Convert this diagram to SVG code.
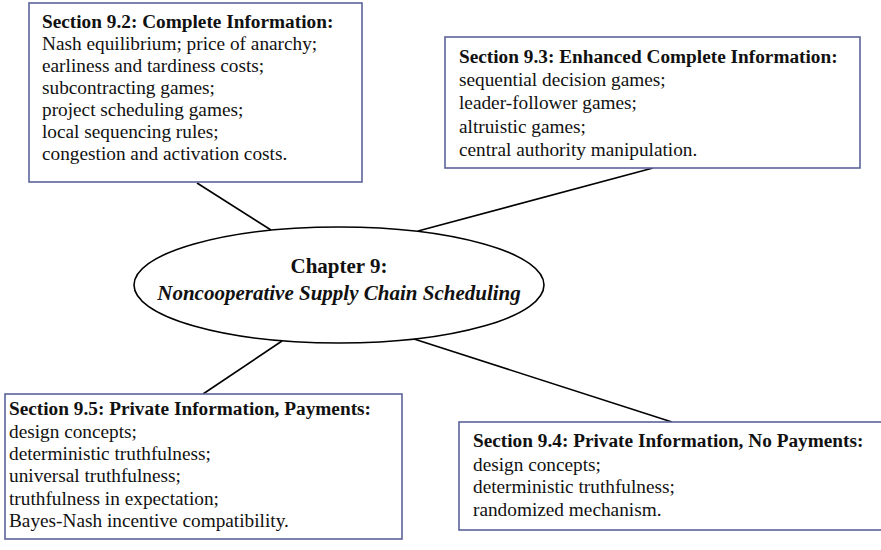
<svg xmlns="http://www.w3.org/2000/svg" width="881" height="550" viewBox="0 0 881 550">
  <style>
    .box { fill: #ffffff; stroke: #5b6399; stroke-width: 1.6; }
    .hub { fill: #ffffff; stroke: #000000; stroke-width: 1.6; }
    .link { stroke: #000000; stroke-width: 1.6; fill: none; }
    text { font-family: "Liberation Serif", "Times New Roman", serif; font-size: 19.3px; fill: #111111; }
    .title { font-weight: bold; }
    .hubtext { font-size: 21px; font-weight: bold; text-anchor: middle; }
    .it { font-style: italic; }
  </style>

  <rect width="881" height="550" fill="#ffffff"/>

  <!-- connectors from the chapter hub to each section -->
  <g id="connectors">
    <line class="link" x1="197" y1="183" x2="271" y2="230"/>
    <line class="link" x1="653" y1="168" x2="418" y2="231"/>
    <line class="link" x1="282" y1="341" x2="203" y2="394"/>
    <line class="link" x1="414" y1="339" x2="672" y2="422"/>
  </g>

  <!-- central chapter node -->
  <g id="chapter9">
    <ellipse class="hub" cx="339" cy="285" rx="205" ry="58"/>
    <text class="hubtext" x="339" y="273">Chapter 9:</text>
    <text class="hubtext it" x="339" y="300">Noncooperative Supply Chain Scheduling</text>
  </g>

  <!-- Section 9.2 -->
  <g id="section92">
    <rect class="box" x="29" y="3" width="333" height="179"/>
    <text class="title" x="42" y="28">Section 9.2: Complete Information:</text>
    <text x="42" y="50">Nash equilibrium; price of anarchy;</text>
    <text x="42" y="72">earliness and tardiness costs;</text>
    <text x="42" y="94">subcontracting games;</text>
    <text x="42" y="116">project scheduling games;</text>
    <text x="42" y="138">local sequencing rules;</text>
    <text x="42" y="160">congestion and activation costs.</text>
  </g>

  <!-- Section 9.3 -->
  <g id="section93">
    <rect class="box" x="445" y="37" width="415" height="131"/>
    <text class="title" x="459" y="62.5">Section 9.3: Enhanced Complete Information:</text>
    <text x="459" y="86">sequential decision games;</text>
    <text x="459" y="109">leader-follower games;</text>
    <text x="459" y="132.5">altruistic games;</text>
    <text x="459" y="156">central authority manipulation.</text>
  </g>

  <!-- Section 9.5 -->
  <g id="section95">
    <rect class="box" x="5" y="394" width="397" height="145"/>
    <text class="title" x="9" y="415">Section 9.5: Private Information, Payments:</text>
    <text x="9" y="437.5">design concepts;</text>
    <text x="9" y="460">deterministic truthfulness;</text>
    <text x="9" y="482">universal truthfulness;</text>
    <text x="9" y="504.5">truthfulness in expectation;</text>
    <text x="9" y="527">Bayes-Nash incentive compatibility.</text>
  </g>

  <!-- Section 9.4 -->
  <g id="section94">
    <rect class="box" x="459" y="422" width="430" height="108"/>
    <text class="title" x="473" y="447">Section 9.4: Private Information, No Payments:</text>
    <text x="473" y="470.5">design concepts;</text>
    <text x="473" y="493">deterministic truthfulness;</text>
    <text x="473" y="515.5">randomized mechanism.</text>
  </g>
</svg>
